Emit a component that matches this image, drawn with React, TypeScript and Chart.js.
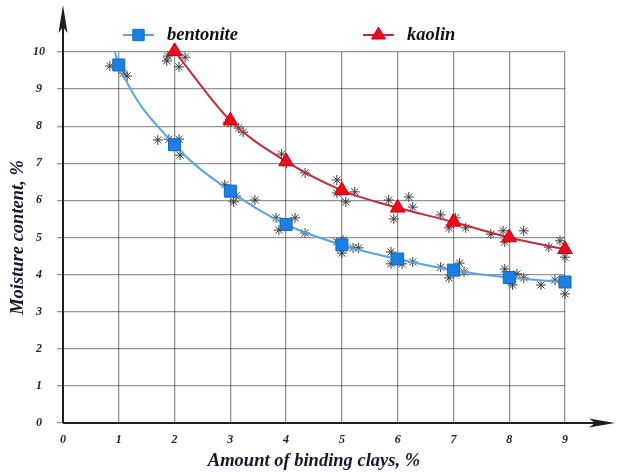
import React, { useEffect, useRef } from "react";
import { Chart, registerables } from "chart.js";

Chart.register(...registerables);

// ---- data ----
const bentoniteX = [0.93, 1, 2, 3, 4, 5, 6, 7, 8, 9];
const bentoniteY = [10.0, 9.65, 7.5, 6.25, 5.35, 4.8, 4.42, 4.12, 3.92, 3.8];
const kaolinX = [2, 3, 4, 5, 6, 7, 8, 9];
const kaolinY = [10.02, 8.15, 7.05, 6.27, 5.8, 5.42, 5.0, 4.68];

const measuredX = [
  0.84, 1.08, 1.15,
  1.86, 1.88, 2.19, 2.08,
  1.7, 1.9, 2.08, 2.1,
  2.96, 3.15, 3.23,
  3.92, 4.01, 4.34,
  4.91, 4.91, 5.07, 5.23,
  2.9, 3.1, 3.06, 3.44,
  3.82, 3.87, 4.16, 4.34,
  4.91, 5.02, 5.0, 5.2, 5.3,
  5.84, 6.2, 6.27, 5.93,
  6.77, 7.04, 6.92, 7.22,
  7.67, 7.89, 8.26, 7.92,
  8.71, 8.91, 9.12, 9.0,
  5.88, 5.88, 6.08, 6.27,
  6.77, 6.92, 7.11, 7.19,
  7.92, 8.14, 8.26, 8.06, 8.57,
  8.82, 9.16, 9.16, 9.0,
];
const measuredY = [
  9.62, 9.43, 9.35,
  9.76, 9.89, 9.86, 9.6,
  7.63, 7.65, 7.65, 7.22,
  8.11, 7.95, 7.84,
  7.25, 7.0, 6.74,
  6.55, 6.2, 5.96, 6.23,
  6.42, 6.12, 5.96, 6.01,
  5.53, 5.2, 5.53, 5.12,
  4.88, 4.93, 4.58, 4.72, 4.72,
  6.01, 6.09, 5.82, 5.5,
  5.61, 5.53, 5.26, 5.26,
  5.09, 5.18, 5.18, 4.88,
  4.74, 4.91, 4.91, 4.47,
  4.61, 4.29, 4.29, 4.34,
  4.2, 3.91, 4.31, 4.07,
  4.15, 4.02, 3.91, 3.72, 3.72,
  3.85, 3.94, 3.72, 3.48,
];

const xTicks = [0, 1, 2, 3, 4, 5, 6, 7, 8, 9];
const yTicks = [0, 1, 2, 3, 4, 5, 6, 7, 8, 9, 10];
const seriesNames = ["bentonite", "kaolin"];

const FONT = "'Liberation Serif', 'Times New Roman', serif";
const TEXT_COLOR = "#16162c";

const axesPlugin = {
  id: "arrowAxes",
  beforeDatasetsDraw(chart: any) {
    const { ctx, scales } = chart;
    const x0 = scales.x.getPixelForValue(0);
    const y0 = scales.y.getPixelForValue(0);
    ctx.save();
    ctx.strokeStyle = "#1e1e1e";
    ctx.fillStyle = "#1e1e1e";
    ctx.lineWidth = 2;
    // y axis
    const yTip = 5;
    ctx.beginPath();
    ctx.moveTo(x0, y0);
    ctx.lineTo(x0, yTip + 10);
    ctx.stroke();
    ctx.beginPath();
    ctx.moveTo(x0, yTip);
    ctx.lineTo(x0 + 4.5, yTip + 28);
    ctx.lineTo(x0, yTip + 22);
    ctx.lineTo(x0 - 4.5, yTip + 28);
    ctx.closePath();
    ctx.fill();
    // x axis
    const xTip = chart.width - 2;
    ctx.beginPath();
    ctx.moveTo(x0, y0);
    ctx.lineTo(xTip - 10, y0);
    ctx.stroke();
    ctx.beginPath();
    ctx.moveTo(xTip, y0);
    ctx.lineTo(xTip - 26, y0 - 4.5);
    ctx.lineTo(xTip - 20, y0);
    ctx.lineTo(xTip - 26, y0 + 4.5);
    ctx.closePath();
    ctx.fill();
    ctx.restore();
  },
};

const legendPlugin = {
  id: "inlineLegend",
  afterDraw(chart: any) {
    const { ctx } = chart;
    const items = [
      { ds: 0, x: 123, y: 35, len: 31 },
      { ds: 1, x: 363, y: 35, len: 31 },
    ];
    ctx.save();
    items.forEach((it) => {
      const dset = chart.data.datasets[it.ds];
      ctx.strokeStyle = dset.borderColor;
      ctx.lineWidth = 2;
      ctx.beginPath();
      ctx.moveTo(it.x, it.y);
      ctx.lineTo(it.x + it.len, it.y);
      ctx.stroke();
      ctx.fillStyle = dset.pointBackgroundColor;
      ctx.strokeStyle = dset.pointBorderColor;
      ctx.lineWidth = 1;
      const r = 8;
      ctx.beginPath();
      if (dset.pointStyle === "rect") {
        const s = Math.SQRT1_2 * r;
        ctx.rect(it.x + it.len / 2 - s, it.y - s, 2 * s, 2 * s);
      } else {
        const cx = it.x + it.len / 2;
        const cy = it.y;
        for (let k = 0; k < 3; k++) {
          const a = -Math.PI / 2 + (k * 2 * Math.PI) / 3;
          const px = cx + Math.cos(a) * r;
          const py = cy + Math.sin(a) * r;
          if (k === 0) ctx.moveTo(px, py);
          else ctx.lineTo(px, py);
        }
        ctx.closePath();
      }
      ctx.fill();
      ctx.stroke();
      ctx.fillStyle = "#111";
      ctx.font = `italic bold 18.5px ${FONT}`;
      ctx.textBaseline = "middle";
      ctx.textAlign = "left";
      ctx.fillText(dset.label, it.x + it.len + 13, it.y);
    });
    ctx.restore();
  },
};

export default function App() {
  const canvasRef = useRef<HTMLCanvasElement | null>(null);

  useEffect(() => {
    document.body.style.margin = "0";
    const canvas = canvasRef.current;
    if (!canvas) return;
    const chart = new Chart(canvas, {
      type: "line",
      data: {
        datasets: [
          {
            label: seriesNames[0],
            data: bentoniteX.map((x, i) => ({ x, y: bentoniteY[i] })),
            borderColor: "#5aa6dc",
            borderWidth: 2,
            pointStyle: "rect",
            pointRadius: bentoniteX.map((_, i) => (i === 0 ? 0 : 8.5)),
            pointBackgroundColor: "#1a80e6",
            pointBorderColor: "#1766b8",
            pointBorderWidth: 1,
            cubicInterpolationMode: "monotone",
            clip: false,
            order: 1,
          } as any,
          {
            label: seriesNames[1],
            data: kaolinX.map((x, i) => ({ x, y: kaolinY[i] })),
            borderColor: "#c22a3e",
            borderWidth: 2,
            pointStyle: "triangle",
            pointRadius: 8.5,
            pointBackgroundColor: "#ee0a1c",
            pointBorderColor: "#c80012",
            pointBorderWidth: 1,
            cubicInterpolationMode: "monotone",
            clip: false,
            order: 0,
          } as any,
          {
            label: "measured",
            data: measuredX.map((x, i) => ({ x, y: measuredY[i] })),
            showLine: false,
            pointStyle: "star",
            pointRadius: 5,
            pointBorderColor: "#3a3a3a",
            pointBackgroundColor: "#3a3a3a",
            pointBorderWidth: 1,
            clip: false,
            order: 2,
          } as any,
        ],
      },
      options: {
        animation: false,
        responsive: false,
        maintainAspectRatio: false,
        layout: { padding: { left: 4, right: 52, top: 52, bottom: 0 } },
        plugins: {
          legend: { display: false },
          tooltip: { enabled: false },
        },
        scales: {
          x: {
            type: "linear",
            min: 0,
            max: 9,
            afterBuildTicks: (scale: any) => {
              scale.ticks = xTicks.map((v) => ({ value: v }));
            },
            afterFit: (scale: any) => {
              scale.height = 49;
            },
            grid: {
              color: "rgba(0,0,0,0.42)",
              lineWidth: 1.3,
              drawTicks: false,
            },
            border: { display: false },
            ticks: {
              padding: 10,
              color: "#222",
              font: { family: FONT, size: 12, style: "italic", weight: "bold" },
            },
            title: {
              display: true,
              text: "Amount of binding clays, %",
              color: TEXT_COLOR,
              padding: { top: 0, bottom: 0 },
              font: { family: FONT, size: 18.5, style: "italic", weight: "bold" },
            },
          },
          y: {
            type: "linear",
            min: 0,
            max: 10,
            afterBuildTicks: (scale: any) => {
              scale.ticks = yTicks.map((v) => ({ value: v }));
            },
            afterFit: (scale: any) => {
              scale.width = 59;
            },
            grid: {
              color: "rgba(0,0,0,0.42)",
              lineWidth: 1.3,
              drawTicks: true,
              tickLength: 6,
            },
            border: { display: false },
            ticks: {
              padding: 12,
              crossAlign: "center",
              color: "#222",
              font: { family: FONT, size: 12, style: "italic", weight: "bold" },
            },
            title: {
              display: true,
              text: "Moisture content, %",
              color: TEXT_COLOR,
              padding: { top: 3, bottom: 0 },
              font: { family: FONT, size: 18.5, style: "italic", weight: "bold" },
            },
          },
        },
      } as any,
      plugins: [axesPlugin, legendPlugin],
    });
    return () => chart.destroy();
  }, []);

  return (
    <div style={{ position: "fixed", left: 0, top: 0, width: 617, height: 472, background: "#fff" }}>
      <canvas ref={canvasRef} width={617} height={472} style={{ display: "block" }} />
    </div>
  );
}
